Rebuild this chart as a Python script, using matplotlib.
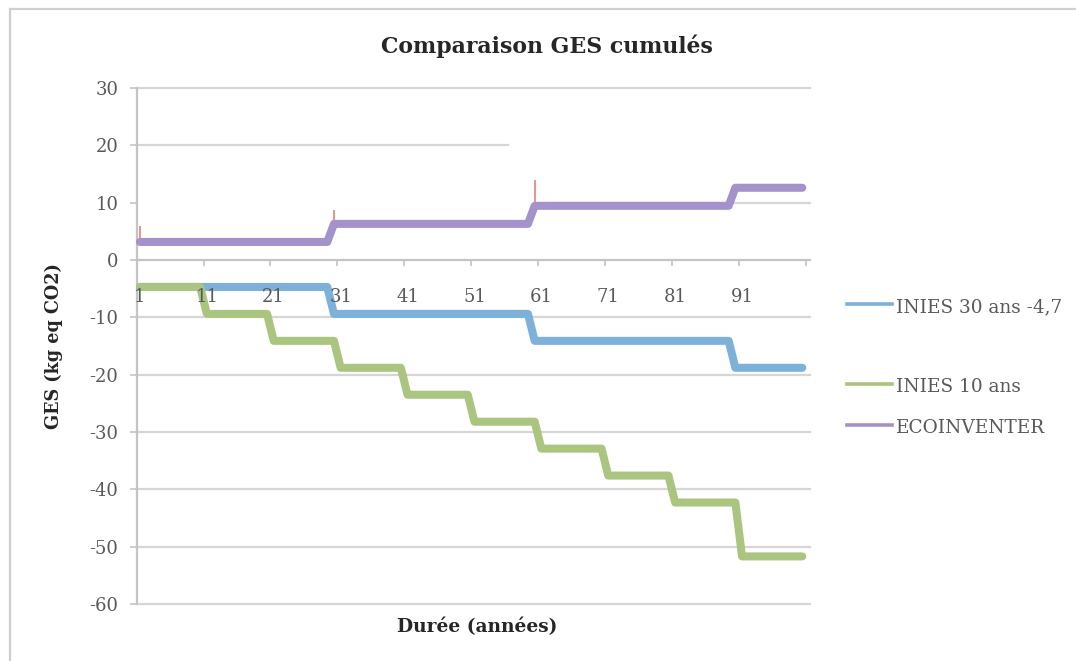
import numpy as np
import matplotlib
matplotlib.use("Agg")
import matplotlib.pyplot as plt
from matplotlib.lines import Line2D

plt.rcParams["font.family"] = ["DejaVu Serif"]
plt.rcParams["axes.unicode_minus"] = False

# Years 1..100
years = np.arange(1, 101)

# Cumulative GHG, step series: level values and how many years each level lasts
inies30_levels = [-4.7, -9.4, -14.1, -18.8]
inies30_runs = [29, 30, 30, 11]

inies10_levels = [-4.7, -9.4, -14.1, -18.8, -23.5, -28.2, -32.9, -37.6, -42.3, -51.7]
inies10_runs = [10, 10, 10, 10, 10, 10, 10, 10, 10, 10]

ecoinvent_levels = [3.15, 6.3, 9.45, 12.6]
ecoinvent_runs = [29, 30, 30, 11]

# Small red error marks on the ECOINVENTER series
err_years = [1, 30, 60]
err_low = [3.0, 5.6, 8.6]
err_high = [6.0, 8.7, 13.9]

series_names = ["INIES 30 ans -4,7", "INIES 10 ans", "ECOINVENTER"]
series_colors = ["#7db1da", "#aac57f", "#a493ca"]

yticks = [30, 20, 10, 0, -10, -20, -30, -40, -50, -60]
xtick_labels = ["1", "11", "21", "31", "41", "51", "61", "71", "81", "91"]

inies30 = np.repeat(inies30_levels, inies30_runs)
inies10 = np.repeat(inies10_levels, inies10_runs)
ecoinvent = np.repeat(ecoinvent_levels, ecoinvent_runs)

W, H = 1076, 661
fig = plt.figure(figsize=(W / 100, H / 100), dpi=100)
fig.patch.set_facecolor("white")

# outer chart frame (left and top edges)
frame_c = "#cfcfcf"
fig.add_artist(Line2D([10 / W, 10 / W], [0, 1 - 9 / H], color=frame_c, lw=1.6))
fig.add_artist(Line2D([10 / W, 1], [1 - 9 / H, 1 - 9 / H], color=frame_c, lw=1.6))

left, right = 136.6 / W, 805.6 / W
top, bottom = 1 - 88 / H, 1 - 604 / H
ax = fig.add_axes([left, bottom, right - left, top - bottom])
ax.set_xlim(0.5, 100.5)
ax.set_ylim(-60, 30)

grid_c = "#d6d6d6"
# gridlines: (value, start, end)
grid_spans = [(30, 0.5, 101.1), (20, 0.5, 56.0), (10, 89.6, 101.1),
              (-10, 0.5, 101.1), (-20, 0.5, 101.1), (-30, 0.5, 101.1),
              (-40, 0.5, 101.1), (-50, 0.5, 101.1), (-60, 0.5, 101.1)]
for yv, x0, x1 in grid_spans:
    ax.plot([x0, x1], [yv, yv], color=grid_c, lw=1.6, zorder=0.5, clip_on=False)
ax.plot([0.5, 101.1], [0, 0], color="#c4c4c4", lw=1.6, zorder=0.6, clip_on=False)

for side in ["top", "right", "bottom"]:
    ax.spines[side].set_visible(False)
ax.spines["left"].set_color("#c4c4c4")
ax.spines["left"].set_linewidth(1.6)
ax.spines["bottom"].set_position(("data", 0))

ax.set_yticks(yticks)
ax.set_yticklabels([str(v) for v in yticks])
ax.tick_params(axis="y", direction="out", length=5, width=1.2, color="#c4c4c4",
               pad=8, labelsize=13, labelcolor="#595959")
ax.set_xticks(np.arange(0.5, 101, 10))
ax.set_xticklabels([])
ax.tick_params(axis="x", direction="out", length=4, width=1.2, color="#c4c4c4")

for i, lab in enumerate(xtick_labels):
    ax.text(1 + 10 * i, -6.4, lab, ha="center", va="center", fontsize=13,
            color="#595959", zorder=5)

# red error marks sit under the purple line
ax.vlines(err_years, err_low, err_high, color="#e0504a", lw=1.1, alpha=0.8, zorder=2)

lw = 5.8
for data, c in zip([inies30, inies10, ecoinvent], series_colors):
    ax.plot(years, data, color=c, lw=lw, solid_joinstyle="round",
            solid_capstyle="round", zorder=3, clip_on=False)

fig.text(547 / W, 1 - 46 / H, "Comparaison GES cumulés", ha="center", va="center",
         fontsize=15.8, fontweight="bold", color="#262626")
fig.text(477 / W, 1 - 627 / H, "Durée (années)", ha="center", va="center",
         fontsize=13.4, fontweight="bold", color="#262626")
fig.text(54 / W, 1 - 346 / H, "GES (kg eq CO2)", ha="center", va="center",
         rotation=90, fontsize=12.7, fontweight="bold", color="#262626")

# legend with its own spacing
leg_y = [304, 384, 425]
for name, c, yp in zip(series_names, series_colors, leg_y):
    yf = 1 - yp / H
    fig.add_artist(Line2D([847 / W, 892 / W], [yf, yf], color=c, lw=2.6))
    fig.text(896 / W, 1 - (yp + 3) / H, name, ha="left", va="center",
             fontsize=13.3, color="#595959")

fig.savefig("out.png", dpi=100, facecolor="white")
